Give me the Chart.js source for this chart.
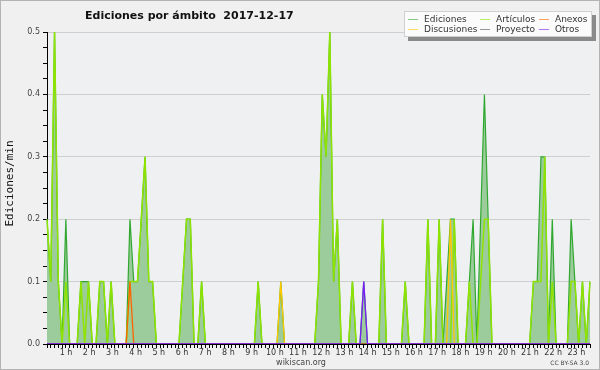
<!DOCTYPE html>
<html><head><meta charset="utf-8">
<script src="https://cdn.jsdelivr.net/npm/chart.js@4.4.0/dist/chart.umd.min.js"></script>
<style>html,body{margin:0;padding:0;background:#f0f0f0;}</style>
</head><body>
<canvas id="c" width="600" height="370"></canvas>
<script>
// ---- text ----
const TITLE = 'Ediciones por ámbito  2017-12-17';
const Y_TITLE = 'Ediciones/min';
const FOOTER_LEFT = 'wikiscan.org';
const FOOTER_RIGHT = 'CC BY-SA 3.0';
const HOUR_TICKS = [1,2,3,4,5,6,7,8,9,10,11,12,13,14,15,16,17,18,19,20,21,22,23];
const Y_LABEL_TICKS = [0, 0.1, 0.2, 0.3, 0.4, 0.5];

// ---- data: edits/min per 10-minute bin, 00:00 .. 24:00 ----
const ediciones = [
  0.2,0.1,0.5,0.1,0,0.2,0,0,0,0.1,0.1,0.1,
  0,0,0.1,0.1,0,0.1,0,0,0,0,0.2,0.1,
  0.1,0.2,0.3,0.1,0.1,0,0,0,0,0,0,0,
  0.1,0.2,0.2,0,0,0.1,0,0,0,0,0,0,
  0,0,0,0,0,0,0,0,0.1,0,0,0,
  0,0,0.1,0,0,0,0,0,0,0,0,0,
  0.1,0.4,0.3,0.5,0.1,0.2,0,0,0,0.1,0,0,
  0.1,0,0,0,0,0.2,0,0,0,0,0,0.1,
  0,0,0,0,0,0.2,0,0,0.2,0,0.1,0.2,
  0.2,0,0,0,0.1,0.2,0,0.2,0.4,0.2,0,0,
  0,0,0,0,0,0,0,0,0,0.1,0.1,0.3,
  0.3,0,0.2,0,0,0,0,0.2,0.1,0,0.1,0,
  0.1
];
const articulos = [
  0.2,0.1,0.5,0.1,0,0.1,0,0,0,0.1,0,0.1,
  0,0,0.1,0.1,0,0.1,0,0,0,0,0.1,0.1,
  0.1,0.2,0.3,0.1,0.1,0,0,0,0,0,0,0,
  0.1,0.2,0.2,0,0,0.1,0,0,0,0,0,0,
  0,0,0,0,0,0,0,0,0.1,0,0,0,
  0,0,0,0,0,0,0,0,0,0,0,0,
  0.1,0.4,0.3,0.5,0.1,0.2,0,0,0,0.1,0,0,
  0,0,0,0,0,0.2,0,0,0,0,0,0.1,
  0,0,0,0,0,0.2,0,0,0.2,0,0,0,
  0.2,0,0,0,0.1,0,0,0.1,0.2,0.2,0,0,
  0,0,0,0,0,0,0,0,0,0.1,0.1,0.1,
  0.3,0,0.1,0,0,0,0,0.1,0.1,0,0.1,0,
  0.1
];
const anexos = [
  0,0,0,0,0,0,0,0,0,0,0,0,
  0,0,0,0,0,0,0,0,0,0,0.1,0,
  0,0,0,0,0,0,0,0,0,0,0,0,
  0,0,0,0,0,0,0,0,0,0,0,0,
  0,0,0,0,0,0,0,0,0,0,0,0,
  0,0,0,0,0,0,0,0,0,0,0,0,
  0,0,0,0,0,0,0,0,0,0,0,0,
  0,0,0,0,0,0,0,0,0,0,0,0,
  0,0,0,0,0,0,0,0,0,0,0,0,
  0,0,0,0,0,0,0,0,0,0,0,0,
  0,0,0,0,0,0,0,0,0,0,0,0,
  0,0,0,0,0,0,0,0,0,0,0,0,
  0
];
const discusiones = [
  0,0,0,0,0,0,0,0,0,0,0,0,
  0,0,0,0,0,0,0,0,0,0,0,0,
  0,0,0,0,0,0,0,0,0,0,0,0,
  0,0,0,0,0,0,0,0,0,0,0,0,
  0,0,0,0,0,0,0,0,0,0,0,0,
  0,0,0.1,0,0,0,0,0,0,0,0,0,
  0,0,0,0,0,0,0,0,0,0,0,0,
  0,0,0,0,0,0,0,0,0,0,0,0,
  0,0,0,0,0,0,0,0,0,0,0,0.2,
  0,0,0,0,0,0,0,0,0,0,0,0,
  0,0,0,0,0,0,0,0,0,0,0,0,
  0,0,0,0,0,0,0,0,0,0,0,0,
  0
];
const proyecto = [
  0,0,0,0,0,0,0,0,0,0,0,0,
  0,0,0,0,0,0,0,0,0,0,0,0,
  0,0,0,0,0,0,0,0,0,0,0,0,
  0,0,0,0,0,0,0,0,0,0,0,0,
  0,0,0,0,0,0,0,0,0,0,0,0,
  0,0,0,0,0,0,0,0,0,0,0,0,
  0,0,0,0,0,0,0,0,0,0,0,0,
  0,0,0,0,0,0,0,0,0,0,0,0,
  0,0,0,0,0,0,0,0,0,0,0,0,
  0,0,0,0,0,0,0,0,0,0,0,0,
  0,0,0,0,0,0,0,0,0,0,0,0,
  0,0,0,0,0,0,0,0,0,0,0,0,
  0
];
const otros = [
  0,0,0,0,0,0,0,0,0,0,0,0,
  0,0,0,0,0,0,0,0,0,0,0,0,
  0,0,0,0,0,0,0,0,0,0,0,0,
  0,0,0,0,0,0,0,0,0,0,0,0,
  0,0,0,0,0,0,0,0,0,0,0,0,
  0,0,0,0,0,0,0,0,0,0,0,0,
  0,0,0,0,0,0,0,0,0,0,0,0,
  0.1,0,0,0,0,0,0,0,0,0,0,0,
  0,0,0,0,0,0,0,0,0,0,0,0,
  0,0,0,0,0,0,0,0,0,0,0,0,
  0,0,0,0,0,0,0,0,0,0,0,0,
  0,0,0,0,0,0,0,0,0,0,0,0,
  0
];
const SERIES_NAMES = ['Ediciones','Artículos','Anexos','Discusiones','Proyecto','Otros'];

// bin labels (time of day)
const binLabels = ediciones.map((_, i) => String(Math.floor(i / 6)).padStart(2,'0') + ':' + String((i % 6) * 10).padStart(2,'0'));

const isMajor = v => Y_LABEL_TICKS.some(t => Math.abs(t - v) < 1e-6);

function ds(label, data, color, width, order, fill, bg) {
  return { label, data, borderColor: color, backgroundColor: bg || color, borderWidth: width,
    pointRadius: 0, pointHoverRadius: 0, tension: 0, fill: fill, order: order,
    xAxisID: 'x', yAxisID: 'y' };
}

const decor = {
  id: 'decor',
  beforeDraw(chart) {
    const { ctx, chartArea: a } = chart;
    ctx.save();
    ctx.fillStyle = '#f0f0f0';
    ctx.fillRect(0, 0, chart.width, chart.height);
    ctx.strokeStyle = '#b4b4b4';
    ctx.lineWidth = 1;
    ctx.strokeRect(0.5, 0.5, chart.width - 1, chart.height - 1);
    ctx.fillStyle = '#eef0f2';
    ctx.fillRect(a.left, a.top, a.right - a.left, a.bottom - a.top);
    ctx.restore();
  },
  afterDraw(chart) {
    const { ctx } = chart;
    ctx.save();
    // title
    ctx.fillStyle = '#111';
    ctx.font = 'bold 11px "DejaVu Sans"';
    ctx.textAlign = 'left';
    ctx.textBaseline = 'alphabetic';
    ctx.fillText(TITLE, 85, 18.5);
    // y-axis title
    ctx.save();
    ctx.translate(10, 183.5);
    ctx.rotate(-Math.PI / 2);
    ctx.font = '11px "DejaVu Sans Mono"';
    ctx.textAlign = 'center';
    ctx.textBaseline = 'middle';
    ctx.fillText(Y_TITLE, 0, 0);
    ctx.restore();
    // legend box
    const bx = 404, by = 11, bw = 188, bh = 26;
    ctx.fillStyle = '#8a8a8a';
    ctx.fillRect(bx + 4, by + 4, bw, bh);
    ctx.fillStyle = '#fbfbfb';
    ctx.fillRect(bx, by, bw, bh);
    ctx.strokeStyle = '#d0d0d0';
    ctx.strokeRect(bx + 0.5, by + 0.5, bw - 1, bh - 1);
    const cols = [408, 480, 539];
    const rows = [19.5, 29.5];
    const layout = [[0, 0, 0], [1, 1, 0], [2, 2, 0], [3, 0, 1], [4, 1, 1], [5, 2, 1]];
    ctx.font = '9px "DejaVu Sans"';
    ctx.textBaseline = 'middle';
    ctx.textAlign = 'left';
    layout.forEach(([si, c, r]) => {
      const d = chart.data.datasets.find(x => x.label === SERIES_NAMES[si]);
      ctx.strokeStyle = d.borderColor;
      ctx.globalAlpha = 0.6;
      ctx.lineWidth = 1;
      ctx.beginPath();
      ctx.moveTo(cols[c], rows[r]);
      ctx.lineTo(cols[c] + 10, rows[r]);
      ctx.stroke();
      ctx.globalAlpha = 1;
      ctx.fillStyle = '#333';
      ctx.fillText(d.label, cols[c] + 16, rows[r]);
    });
    // footers
    ctx.textBaseline = 'alphabetic';
    ctx.font = '8px "DejaVu Sans"';
    ctx.fillStyle = '#444';
    ctx.textAlign = 'center';
    ctx.fillText(FOOTER_LEFT, 301, 364.5);
    ctx.font = '6px "DejaVu Sans"';
    ctx.textAlign = 'right';
    ctx.fillText(FOOTER_RIGHT, 589, 364.5);
    ctx.restore();
  }
};

new Chart(document.getElementById('c'), {
  type: 'line',
  data: {
    labels: binLabels,
    datasets: [
      ds('Ediciones', ediciones, '#30a830', 1.2, 6, 'origin', '#9ccb9c'),
      ds('Artículos', articulos, '#8ee400', 1.5, 5, false),
      ds('Anexos', anexos, '#ff6400', 1.3, 3, false),
      ds('Discusiones', discusiones, '#ffc800', 1.3, 4, false),
      ds('Proyecto', proyecto, '#555555', 1.2, 2, false),
      ds('Otros', otros, '#7a1cff', 1.3, 1, false)
    ]
  },
  options: {
    responsive: false,
    animation: false,
    devicePixelRatio: 1,
    events: [],
    layout: { padding: { top: 32, right: 10, left: 0, bottom: 0 } },
    plugins: { legend: { display: false }, tooltip: { enabled: false }, title: { display: false } },
    scales: {
      x: {
        type: 'category', position: 'bottom', offset: false, weight: 0, z: 1,
        ticks: { display: false },
        grid: { drawOnChartArea: false, drawTicks: true, tickLength: 4, tickColor: '#000', color: '#000' },
        border: { color: '#000', width: 1 },
        afterFit: s => { s.height = 0; }
      },
      xl: {
        type: 'linear', position: 'bottom', weight: 1, min: 0.181, max: 23.586,
        grid: { display: false, drawTicks: false },
        border: { display: false },
        afterBuildTicks: s => { s.ticks = HOUR_TICKS.map(h => ({ value: h })); },
        ticks: { autoSkip: false, maxRotation: 0, padding: 4, color: '#333',
          font: { family: 'DejaVu Sans', size: 8 }, callback: v => v + ' h' },
        afterFit: s => { s.height = 26; }
      },
      y: {
        min: 0, max: 0.5, z: 0,
        ticks: { stepSize: 0.025, autoSkip: false, padding: 3, color: '#444',
          font: { family: 'DejaVu Sans', size: 8 },
          callback: v => isMajor(v) ? v.toFixed(1) : '' },
        grid: { color: c => isMajor(c.tick.value) ? '#cfcfcf' : 'rgba(0,0,0,0)', tickColor: '#000', tickLength: 4, lineWidth: 1 },
        border: { color: '#000', width: 1 },
        afterFit: s => { s.width = 47; }
      }
    }
  },
  plugins: [decor]
});
</script>
</body></html>
